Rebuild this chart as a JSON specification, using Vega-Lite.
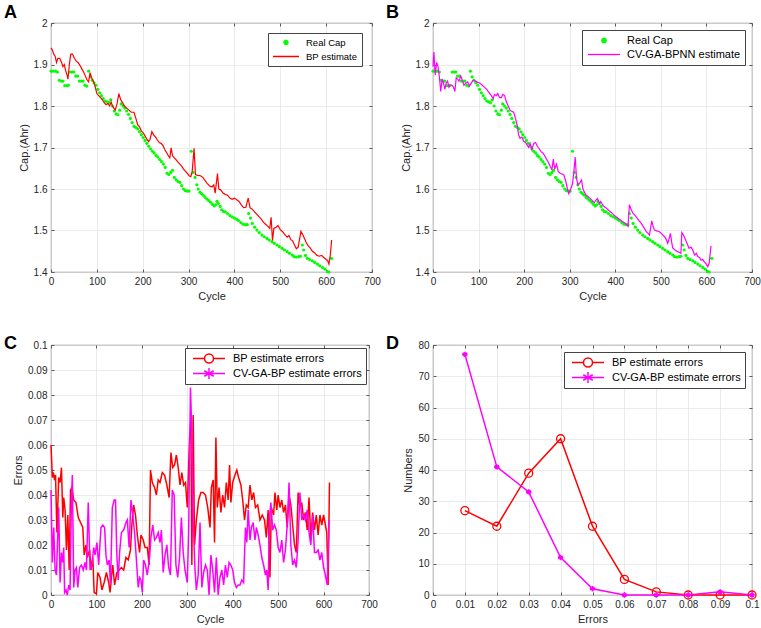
{
  "$schema": "https://vega.github.io/schema/vega-lite/v6.json",
  "padding": {"left": 3, "top": 3, "right": 0, "bottom": 0},
  "bounds": "flush",
  "spacing": {"row": 73, "column": 61},
  "columns": 2,
  "resolve": {"scale": {"color": "independent"}, "legend": {"color": "independent"}},
  "config": {
    "font": "Liberation Sans",
    "view": {"stroke": "#5a5a5a", "strokeWidth": 0.8},
    "axis": {
      "domain": false,
      "grid": true,
      "gridColor": "#e3e3e3",
      "gridWidth": 0.7,
      "tickColor": "#5a5a5a",
      "tickSize": -3,
      "labelFont": "Liberation Sans",
      "labelFontSize": 10,
      "labelColor": "#262626",
      "labelPadding": 7,
      "titleFont": "Liberation Sans",
      "titleFontSize": 11,
      "titleFontWeight": "normal",
      "titleColor": "#262626"
    },
    "legend": {
      "orient": "top-right",
      "title": null,
      "fillColor": "white",
      "strokeColor": "#444444",
      "padding": 4,
      "labelFont": "Liberation Sans",
      "labelFontSize": 11,
      "labelColor": "#000000",
      "symbolSize": 100,
      "symbolOffset": 14,
      "labelOffset": 18,
      "clipHeight": 13,
      "rowPadding": 2
    },
    "title": {
      "anchor": "start",
      "frame": "group",
      "font": "Liberation Sans",
      "fontSize": 18,
      "fontWeight": "bold",
      "color": "#000000",
      "baseline": "alphabetic",
      "dx": -47,
      "dy": 7,
      "offset": 3
    }
  },
  "datasets": {
    "cap": [
      {"c":0,"r":1.884},{"c":5,"r":1.884},{"c":10,"r":1.884},{"c":14,"r":1.882},{"c":18,"r":1.862},{"c":22,"r":1.86},{"c":26,"r":1.86},{"c":30,"r":1.849},{"c":35,"r":1.849},{"c":38,"r":1.85},
      {"c":42,"r":1.882},{"c":46,"r":1.882},{"c":50,"r":1.882},{"c":54,"r":1.872},{"c":58,"r":1.872},{"c":62,"r":1.86},{"c":66,"r":1.86},{"c":70,"r":1.86},{"c":74,"r":1.85},{"c":78,"r":1.848},
      {"c":82,"r":1.884},{"c":86,"r":1.87},{"c":90,"r":1.862},{"c":94,"r":1.856},{"c":98,"r":1.85},{"c":102,"r":1.84},{"c":106,"r":1.832},{"c":110,"r":1.825},{"c":114,"r":1.818},{"c":118,"r":1.812},
      {"c":122,"r":1.81},{"c":126,"r":1.808},{"c":130,"r":1.815},{"c":134,"r":1.8},{"c":138,"r":1.788},{"c":142,"r":1.781},{"c":146,"r":1.779},{"c":150,"r":1.79},{"c":153,"r":1.805},{"c":157,"r":1.8},
      {"c":161,"r":1.795},{"c":165,"r":1.788},{"c":169,"r":1.78},{"c":173,"r":1.77},{"c":177,"r":1.76},{"c":181,"r":1.751},{"c":185,"r":1.748},{"c":189,"r":1.745},{"c":193,"r":1.738},{"c":197,"r":1.731},
      {"c":201,"r":1.724},{"c":205,"r":1.717},{"c":209,"r":1.71},{"c":213,"r":1.703},{"c":217,"r":1.697},{"c":221,"r":1.691},{"c":225,"r":1.687},{"c":229,"r":1.681},{"c":233,"r":1.677},{"c":237,"r":1.671},
      {"c":241,"r":1.666},{"c":245,"r":1.66},{"c":249,"r":1.652},{"c":253,"r":1.638},{"c":257,"r":1.635},{"c":261,"r":1.64},{"c":265,"r":1.645},{"c":269,"r":1.628},{"c":273,"r":1.622},{"c":277,"r":1.618},
      {"c":281,"r":1.616},{"c":285,"r":1.608},{"c":289,"r":1.6},{"c":293,"r":1.596},{"c":297,"r":1.595},{"c":301,"r":1.595},{"c":306,"r":1.691},{"c":310,"r":1.64},{"c":314,"r":1.628},{"c":318,"r":1.61},
      {"c":321,"r":1.6},{"c":325,"r":1.592},{"c":328,"r":1.589},{"c":332,"r":1.585},{"c":336,"r":1.58},{"c":340,"r":1.576},{"c":344,"r":1.572},{"c":348,"r":1.568},{"c":352,"r":1.563},{"c":356,"r":1.559},
      {"c":359,"r":1.562},{"c":362,"r":1.57},{"c":365,"r":1.565},{"c":369,"r":1.558},{"c":372,"r":1.55},{"c":376,"r":1.546},{"c":380,"r":1.545},{"c":385,"r":1.541},{"c":390,"r":1.536},{"c":395,"r":1.533},
      {"c":400,"r":1.53},{"c":405,"r":1.527},{"c":409,"r":1.524},{"c":414,"r":1.519},{"c":419,"r":1.515},{"c":424,"r":1.514},{"c":428,"r":1.514},{"c":431,"r":1.541},{"c":435,"r":1.53},{"c":439,"r":1.517},
      {"c":444,"r":1.508},{"c":449,"r":1.501},{"c":454,"r":1.495},{"c":460,"r":1.489},{"c":465,"r":1.485},{"c":471,"r":1.481},{"c":476,"r":1.477},{"c":482,"r":1.473},{"c":487,"r":1.469},{"c":493,"r":1.465},
      {"c":498,"r":1.461},{"c":504,"r":1.457},{"c":509,"r":1.453},{"c":515,"r":1.449},{"c":520,"r":1.445},{"c":526,"r":1.441},{"c":530,"r":1.437},{"c":535,"r":1.436},{"c":540,"r":1.437},{"c":544,"r":1.438},
      {"c":548,"r":1.465},{"c":551,"r":1.453},{"c":555,"r":1.44},{"c":559,"r":1.433},{"c":564,"r":1.43},{"c":570,"r":1.427},{"c":575,"r":1.423},{"c":581,"r":1.419},{"c":586,"r":1.415},{"c":592,"r":1.411},
      {"c":597,"r":1.407},{"c":603,"r":1.401},{"c":606,"r":1.4},{"c":612,"r":1.433}
    ],
    "bp": [
      {"c":0,"v":1.94},{"c":3,"v":1.935},{"c":6,"v":1.925},{"c":9,"v":1.92},{"c":12,"v":1.905},{"c":15,"v":1.915},{"c":19,"v":1.915},{"c":23,"v":1.905},{"c":26,"v":1.895},{"c":29,"v":1.9},
      {"c":32,"v":1.885},{"c":35,"v":1.875},{"c":37,"v":1.865},{"c":40,"v":1.9},{"c":43,"v":1.925},{"c":47,"v":1.925},{"c":51,"v":1.915},{"c":55,"v":1.908},{"c":59,"v":1.905},{"c":63,"v":1.898},
      {"c":67,"v":1.89},{"c":71,"v":1.882},{"c":75,"v":1.872},{"c":79,"v":1.862},{"c":82,"v":1.858},{"c":85,"v":1.88},{"c":88,"v":1.87},{"c":92,"v":1.86},{"c":96,"v":1.848},{"c":100,"v":1.83},
      {"c":104,"v":1.825},{"c":108,"v":1.82},{"c":112,"v":1.815},{"c":116,"v":1.808},{"c":120,"v":1.803},{"c":124,"v":1.806},{"c":128,"v":1.8},{"c":131,"v":1.81},{"c":134,"v":1.8},{"c":137,"v":1.795},
      {"c":140,"v":1.79},{"c":144,"v":1.805},{"c":148,"v":1.83},{"c":152,"v":1.815},{"c":156,"v":1.808},{"c":160,"v":1.8},{"c":165,"v":1.795},{"c":170,"v":1.79},{"c":175,"v":1.785},{"c":181,"v":1.785},
      {"c":185,"v":1.77},{"c":189,"v":1.755},{"c":193,"v":1.75},{"c":197,"v":1.74},{"c":201,"v":1.735},{"c":205,"v":1.728},{"c":209,"v":1.72},{"c":213,"v":1.714},{"c":216,"v":1.72},{"c":220,"v":1.738},
      {"c":224,"v":1.73},{"c":228,"v":1.725},{"c":232,"v":1.718},{"c":236,"v":1.712},{"c":240,"v":1.71},{"c":244,"v":1.705},{"c":248,"v":1.695},{"c":252,"v":1.688},{"c":256,"v":1.68},{"c":259,"v":1.675},
      {"c":262,"v":1.699},{"c":265,"v":1.68},{"c":269,"v":1.675},{"c":273,"v":1.67},{"c":277,"v":1.665},{"c":281,"v":1.66},{"c":285,"v":1.655},{"c":289,"v":1.648},{"c":293,"v":1.643},{"c":297,"v":1.638},
      {"c":301,"v":1.632},{"c":305,"v":1.63},{"c":308,"v":1.643},{"c":312,"v":1.698},{"c":315,"v":1.635},{"c":320,"v":1.633},{"c":326,"v":1.632},{"c":331,"v":1.628},{"c":336,"v":1.62},{"c":341,"v":1.613},
      {"c":346,"v":1.607},{"c":351,"v":1.605},{"c":355,"v":1.61},{"c":358,"v":1.59},{"c":363,"v":1.637},{"c":366,"v":1.6},{"c":370,"v":1.598},{"c":375,"v":1.59},{"c":380,"v":1.587},{"c":385,"v":1.585},
      {"c":390,"v":1.578},{"c":395,"v":1.575},{"c":400,"v":1.578},{"c":405,"v":1.574},{"c":410,"v":1.57},{"c":415,"v":1.562},{"c":420,"v":1.555},{"c":425,"v":1.556},{"c":430,"v":1.578},{"c":434,"v":1.555},
      {"c":438,"v":1.552},{"c":443,"v":1.546},{"c":448,"v":1.54},{"c":453,"v":1.534},{"c":458,"v":1.528},{"c":463,"v":1.52},{"c":468,"v":1.515},{"c":473,"v":1.51},{"c":477,"v":1.505},{"c":480,"v":1.532},
      {"c":483,"v":1.476},{"c":486,"v":1.505},{"c":491,"v":1.508},{"c":495,"v":1.512},{"c":500,"v":1.502},{"c":505,"v":1.497},{"c":510,"v":1.49},{"c":515,"v":1.484},{"c":519,"v":1.488},{"c":523,"v":1.478},
      {"c":527,"v":1.475},{"c":531,"v":1.465},{"c":535,"v":1.456},{"c":539,"v":1.46},{"c":545,"v":1.498},{"c":549,"v":1.49},{"c":553,"v":1.48},{"c":557,"v":1.47},{"c":561,"v":1.463},{"c":565,"v":1.458},
      {"c":570,"v":1.45},{"c":575,"v":1.446},{"c":580,"v":1.44},{"c":585,"v":1.438},{"c":590,"v":1.44},{"c":595,"v":1.435},{"c":600,"v":1.43},{"c":603,"v":1.428},{"c":606,"v":1.419},{"c":609,"v":1.44},
      {"c":612,"v":1.477}
    ],
    "ga": [
      {"c":0,"v":1.895},{"c":2,"v":1.93},{"c":4,"v":1.89},{"c":5,"v":1.875},{"c":8,"v":1.905},{"c":11,"v":1.895},{"c":14,"v":1.87},{"c":17,"v":1.835},{"c":20,"v":1.865},{"c":23,"v":1.855},
      {"c":26,"v":1.84},{"c":29,"v":1.855},{"c":32,"v":1.86},{"c":35,"v":1.845},{"c":38,"v":1.85},{"c":42,"v":1.85},{"c":45,"v":1.845},{"c":48,"v":1.835},{"c":51,"v":1.868},{"c":54,"v":1.865},
      {"c":57,"v":1.86},{"c":61,"v":1.872},{"c":65,"v":1.86},{"c":68,"v":1.85},{"c":72,"v":1.855},{"c":76,"v":1.858},{"c":80,"v":1.848},{"c":84,"v":1.855},{"c":88,"v":1.862},{"c":93,"v":1.86},
      {"c":98,"v":1.857},{"c":103,"v":1.855},{"c":108,"v":1.85},{"c":113,"v":1.845},{"c":118,"v":1.84},{"c":123,"v":1.832},{"c":128,"v":1.825},{"c":132,"v":1.818},{"c":135,"v":1.828},{"c":139,"v":1.825},
      {"c":142,"v":1.83},{"c":146,"v":1.82},{"c":150,"v":1.82},{"c":153,"v":1.828},{"c":157,"v":1.825},{"c":161,"v":1.81},{"c":165,"v":1.8},{"c":169,"v":1.79},{"c":173,"v":1.787},{"c":177,"v":1.785},
      {"c":181,"v":1.77},{"c":185,"v":1.752},{"c":188,"v":1.73},{"c":191,"v":1.722},{"c":195,"v":1.725},{"c":199,"v":1.715},{"c":203,"v":1.712},{"c":207,"v":1.705},{"c":210,"v":1.7},{"c":213,"v":1.71},
      {"c":217,"v":1.695},{"c":221,"v":1.71},{"c":225,"v":1.712},{"c":229,"v":1.703},{"c":233,"v":1.697},{"c":237,"v":1.69},{"c":241,"v":1.687},{"c":245,"v":1.68},{"c":249,"v":1.672},{"c":253,"v":1.665},
      {"c":257,"v":1.655},{"c":261,"v":1.647},{"c":264,"v":1.672},{"c":267,"v":1.648},{"c":271,"v":1.66},{"c":275,"v":1.642},{"c":279,"v":1.638},{"c":283,"v":1.636},{"c":287,"v":1.634},{"c":291,"v":1.62},
      {"c":295,"v":1.6},{"c":298,"v":1.589},{"c":302,"v":1.6},{"c":306,"v":1.612},{"c":309,"v":1.64},{"c":312,"v":1.677},{"c":315,"v":1.625},{"c":318,"v":1.61},{"c":322,"v":1.615},{"c":326,"v":1.622},
      {"c":329,"v":1.6},{"c":332,"v":1.593},{"c":336,"v":1.585},{"c":340,"v":1.582},{"c":344,"v":1.578},{"c":347,"v":1.575},{"c":351,"v":1.57},{"c":354,"v":1.567},{"c":358,"v":1.574},{"c":361,"v":1.577},
      {"c":365,"v":1.565},{"c":368,"v":1.57},{"c":372,"v":1.562},{"c":376,"v":1.557},{"c":380,"v":1.554},{"c":384,"v":1.55},{"c":387,"v":1.547},{"c":392,"v":1.543},{"c":398,"v":1.536},{"c":403,"v":1.532},
      {"c":409,"v":1.527},{"c":414,"v":1.523},{"c":420,"v":1.519},{"c":426,"v":1.513},{"c":428,"v":1.51},{"c":431,"v":1.562},{"c":435,"v":1.55},{"c":439,"v":1.541},{"c":443,"v":1.537},{"c":446,"v":1.533},
      {"c":451,"v":1.525},{"c":457,"v":1.517},{"c":463,"v":1.507},{"c":468,"v":1.497},{"c":472,"v":1.493},{"c":475,"v":1.489},{"c":480,"v":1.523},{"c":483,"v":1.51},{"c":486,"v":1.501},{"c":491,"v":1.499},
      {"c":497,"v":1.497},{"c":502,"v":1.492},{"c":508,"v":1.485},{"c":512,"v":1.478},{"c":515,"v":1.469},{"c":518,"v":1.48},{"c":521,"v":1.493},{"c":524,"v":1.47},{"c":526,"v":1.458},{"c":531,"v":1.453},
      {"c":537,"v":1.449},{"c":541,"v":1.447},{"c":544,"v":1.445},{"c":546,"v":1.495},{"c":549,"v":1.49},{"c":553,"v":1.481},{"c":557,"v":1.47},{"c":562,"v":1.457},{"c":566,"v":1.46},{"c":570,"v":1.453},
      {"c":574,"v":1.441},{"c":578,"v":1.445},{"c":581,"v":1.437},{"c":585,"v":1.435},{"c":588,"v":1.429},{"c":592,"v":1.43},{"c":595,"v":1.425},{"c":599,"v":1.42},{"c":603,"v":1.413},{"c":606,"v":1.421},
      {"c":610,"v":1.463}
    ],
    "e1": [
      {"c":0,"e":0.06},{"c":3,"e":0.047},{"c":5,"e":0.049},{"c":8,"e":0.046},{"c":10,"e":0.048},{"c":13,"e":0.025},{"c":17,"e":0.047},{"c":20,"e":0.045},{"c":23,"e":0.051},{"c":26,"e":0.031},
      {"c":28,"e":0.039},{"c":31,"e":0.034},{"c":34,"e":0.018},{"c":37,"e":0.032},{"c":40,"e":0.01},{"c":43,"e":0.042},{"c":46,"e":0.043},{"c":50,"e":0.038},{"c":55,"e":0.037},{"c":60,"e":0.031},
      {"c":65,"e":0.029},{"c":70,"e":0.027},{"c":73,"e":0.016},{"c":77,"e":0.02},{"c":80,"e":0.015},{"c":85,"e":0.018},{"c":88,"e":0.01},{"c":92,"e":0.015},{"c":95,"e":0.001},{"c":100,"e":0.0005},
      {"c":103,"e":0.009},{"c":108,"e":0.007},{"c":112,"e":0.002},{"c":117,"e":0.005},{"c":122,"e":0.009},{"c":127,"e":0.005},{"c":130,"e":0.001},{"c":133,"e":0.007},{"c":136,"e":0.012},{"c":140,"e":0.004},
      {"c":145,"e":0.009},{"c":150,"e":0.01},{"c":155,"e":0.011},{"c":160,"e":0.01},{"c":165,"e":0.015},{"c":170,"e":0.014},{"c":175,"e":0.018},{"c":178,"e":0.028},{"c":182,"e":0.036},{"c":186,"e":0.032},
      {"c":190,"e":0.024},{"c":195,"e":0.017},{"c":198,"e":0.024},{"c":203,"e":0.022},{"c":207,"e":0.019},{"c":212,"e":0.019},{"c":216,"e":0.012},{"c":219,"e":0.05},{"c":223,"e":0.045},{"c":228,"e":0.043},
      {"c":232,"e":0.04},{"c":236,"e":0.046},{"c":240,"e":0.045},{"c":245,"e":0.049},{"c":250,"e":0.048},{"c":255,"e":0.044},{"c":260,"e":0.039},{"c":264,"e":0.057},{"c":268,"e":0.051},{"c":272,"e":0.052},
      {"c":276,"e":0.056},{"c":280,"e":0.051},{"c":284,"e":0.044},{"c":288,"e":0.049},{"c":292,"e":0.044},{"c":296,"e":0.045},{"c":300,"e":0.035},{"c":305,"e":0.063},{"c":308,"e":0.07},{"c":310,"e":0.012},
      {"c":313,"e":0.072},{"c":316,"e":0.02},{"c":320,"e":0.03},{"c":325,"e":0.038},{"c":330,"e":0.041},{"c":335,"e":0.041},{"c":340,"e":0.04},{"c":345,"e":0.035},{"c":350,"e":0.027},{"c":353,"e":0.043},
      {"c":357,"e":0.046},{"c":360,"e":0.021},{"c":363,"e":0.063},{"c":366,"e":0.035},{"c":370,"e":0.043},{"c":374,"e":0.033},{"c":378,"e":0.04},{"c":382,"e":0.035},{"c":386,"e":0.045},{"c":390,"e":0.038},
      {"c":393,"e":0.052},{"c":396,"e":0.037},{"c":400,"e":0.045},{"c":405,"e":0.048},{"c":409,"e":0.05},{"c":413,"e":0.047},{"c":418,"e":0.044},{"c":422,"e":0.038},{"c":426,"e":0.03},{"c":430,"e":0.036},
      {"c":434,"e":0.035},{"c":438,"e":0.044},{"c":442,"e":0.038},{"c":446,"e":0.041},{"c":450,"e":0.035},{"c":455,"e":0.036},{"c":460,"e":0.03},{"c":465,"e":0.032},{"c":470,"e":0.03},{"c":474,"e":0.023},
      {"c":478,"e":0.034},{"c":482,"e":0.007},{"c":485,"e":0.035},{"c":490,"e":0.032},{"c":493,"e":0.041},{"c":497,"e":0.034},{"c":500,"e":0.04},{"c":504,"e":0.035},{"c":508,"e":0.038},{"c":512,"e":0.033},
      {"c":516,"e":0.036},{"c":520,"e":0.027},{"c":524,"e":0.04},{"c":528,"e":0.036},{"c":532,"e":0.028},{"c":536,"e":0.02},{"c":540,"e":0.017},{"c":544,"e":0.041},{"c":548,"e":0.035},{"c":552,"e":0.037},
      {"c":556,"e":0.03},{"c":560,"e":0.033},{"c":564,"e":0.026},{"c":568,"e":0.039},{"c":572,"e":0.022},{"c":576,"e":0.033},{"c":580,"e":0.026},{"c":584,"e":0.032},{"c":588,"e":0.024},{"c":592,"e":0.032},
      {"c":596,"e":0.028},{"c":600,"e":0.032},{"c":604,"e":0.028},{"c":607,"e":0.025},{"c":610,"e":0.004},{"c":613,"e":0.045}
    ],
    "e2": [
      {"c":0,"e":0.042},{"c":3,"e":0.013},{"c":6,"e":0.027},{"c":9,"e":0.01},{"c":12,"e":0.008},{"c":15,"e":0.025},{"c":17,"e":0.035},{"c":20,"e":0.005},{"c":23,"e":0.017},{"c":26,"e":0.013},
      {"c":28,"e":0.019},{"c":30,"e":0.001},{"c":33,"e":0.002},{"c":36,"e":0.0},{"c":39,"e":0.004},{"c":42,"e":0.002},{"c":45,"e":0.038},{"c":47,"e":0.048},{"c":50,"e":0.003},{"c":53,"e":0.01},
      {"c":56,"e":0.011},{"c":59,"e":0.003},{"c":63,"e":0.011},{"c":67,"e":0.012},{"c":71,"e":0.01},{"c":75,"e":0.013},{"c":78,"e":0.01},{"c":82,"e":0.037},{"c":86,"e":0.01},{"c":90,"e":0.012},
      {"c":94,"e":0.019},{"c":97,"e":0.016},{"c":101,"e":0.021},{"c":105,"e":0.012},{"c":110,"e":0.027},{"c":114,"e":0.028},{"c":118,"e":0.027},{"c":121,"e":0.016},{"c":124,"e":0.012},{"c":128,"e":0.014},
      {"c":131,"e":0.004},{"c":135,"e":0.035},{"c":139,"e":0.038},{"c":142,"e":0.038},{"c":145,"e":0.016},{"c":148,"e":0.006},{"c":151,"e":0.017},{"c":155,"e":0.025},{"c":160,"e":0.026},{"c":165,"e":0.029},
      {"c":168,"e":0.03},{"c":172,"e":0.019},{"c":176,"e":0.038},{"c":180,"e":0.032},{"c":184,"e":0.025},{"c":188,"e":0.014},{"c":192,"e":0.003},{"c":195,"e":0.007},{"c":198,"e":0.006},{"c":201,"e":0.001},
      {"c":204,"e":0.014},{"c":208,"e":0.012},{"c":212,"e":0.008},{"c":217,"e":0.015},{"c":220,"e":0.023},{"c":224,"e":0.028},{"c":228,"e":0.022},{"c":232,"e":0.023},{"c":236,"e":0.025},{"c":240,"e":0.021},
      {"c":243,"e":0.026},{"c":247,"e":0.009},{"c":251,"e":0.016},{"c":255,"e":0.02},{"c":259,"e":0.011},{"c":263,"e":0.008},{"c":267,"e":0.042},{"c":271,"e":0.04},{"c":275,"e":0.012},{"c":279,"e":0.007},
      {"c":283,"e":0.015},{"c":287,"e":0.031},{"c":291,"e":0.017},{"c":295,"e":0.01},{"c":300,"e":0.005},{"c":303,"e":0.025},{"c":307,"e":0.083},{"c":310,"e":0.065},{"c":313,"e":0.03},{"c":317,"e":0.01},
      {"c":320,"e":0.002},{"c":324,"e":0.008},{"c":328,"e":0.029},{"c":332,"e":0.003},{"c":336,"e":0.009},{"c":340,"e":0.012},{"c":344,"e":0.01},{"c":348,"e":0.0},{"c":352,"e":0.016},{"c":356,"e":0.01},
      {"c":360,"e":0.001},{"c":364,"e":0.015},{"c":368,"e":0.0},{"c":372,"e":0.007},{"c":376,"e":0.01},{"c":380,"e":0.004},{"c":384,"e":0.012},{"c":388,"e":0.007},{"c":392,"e":0.013},{"c":396,"e":0.012},
      {"c":400,"e":0.01},{"c":404,"e":0.005},{"c":408,"e":0.003},{"c":412,"e":0.004},{"c":416,"e":0.004},{"c":420,"e":0.006},{"c":424,"e":0.005},{"c":428,"e":0.027},{"c":431,"e":0.021},{"c":434,"e":0.034},
      {"c":438,"e":0.022},{"c":441,"e":0.027},{"c":445,"e":0.029},{"c":449,"e":0.022},{"c":452,"e":0.027},{"c":456,"e":0.024},{"c":460,"e":0.02},{"c":464,"e":0.015},{"c":468,"e":0.012},{"c":472,"e":0.008},
      {"c":475,"e":0.01},{"c":478,"e":0.002},{"c":481,"e":0.031},{"c":484,"e":0.037},{"c":488,"e":0.026},{"c":492,"e":0.028},{"c":496,"e":0.026},{"c":500,"e":0.019},{"c":504,"e":0.017},{"c":508,"e":0.022},
      {"c":512,"e":0.013},{"c":516,"e":0.018},{"c":520,"e":0.028},{"c":524,"e":0.045},{"c":528,"e":0.02},{"c":532,"e":0.012},{"c":536,"e":0.014},{"c":540,"e":0.011},{"c":544,"e":0.022},{"c":548,"e":0.041},
      {"c":552,"e":0.03},{"c":556,"e":0.032},{"c":560,"e":0.03},{"c":564,"e":0.034},{"c":568,"e":0.025},{"c":572,"e":0.02},{"c":576,"e":0.032},{"c":580,"e":0.017},{"c":584,"e":0.017},{"c":588,"e":0.018},
      {"c":592,"e":0.014},{"c":596,"e":0.017},{"c":600,"e":0.011},{"c":604,"e":0.008},{"c":608,"e":0.004},{"c":612,"e":0.03}
    ],
    "hist": [
      {"x":0.01,"bp":27,"ga":77},{"x":0.02,"bp":22,"ga":41},{"x":0.03,"bp":39,"ga":33},{"x":0.04,"bp":50,"ga":12},{"x":0.05,"bp":22,"ga":2},
      {"x":0.06,"bp":5,"ga":0},{"x":0.07,"bp":1,"ga":0},{"x":0.08,"bp":0,"ga":0},{"x":0.09,"bp":0,"ga":1},{"x":0.1,"bp":0,"ga":0}
    ]
  },
  "concat": [
    {
      "width": 321,
      "height": 249,
      "title": {"text": "A"},
      "resolve": {"axis": {"x": "independent", "y": "independent"}},
      "layer": [
        {
          "data": {"name": "cap"},
          "mark": {"type": "point", "filled": true, "size": 10, "opacity": 1},
          "encoding": {
            "x": {"field": "c", "type": "quantitative", "scale": {"domain": [0, 700]}, "axis": {"title": "Cycle", "values": [0, 100, 200, 300, 400, 500, 600, 700], "labelOverlap": false, "labelFlush": false}},
            "y": {"field": "r", "type": "quantitative", "scale": {"domain": [1.4, 2]}, "axis": {"title": "Cap.(Ahr)", "values": [1.4, 1.5, 1.6, 1.7, 1.8, 1.9, 2], "format": ".1~f", "labelOverlap": false, "labelFlush": false}},
            "color": {
              "datum": "Real Cap",
              "type": "nominal",
              "scale": {"domain": ["Real Cap", "BP estimate"], "range": ["#00ff00", "#ff0000"]},
              "legend": {
                "offset": 10, "labelFontSize": 9.5, "symbolOffset": 8, "labelOffset": 14, "clipHeight": 11, "rowPadding": 3,
                "encode": {"symbols": {"update": {
                  "shape": {"signal": "datum.value === 'Real Cap' ? 'M-0.4,0A0.4,0.4 0 1,0 0.4,0A0.4,0.4 0 1,0 -0.4,0Z' : 'M-2.6,0H2.6'"},
                  "fill": {"signal": "datum.value === 'Real Cap' ? '#00ff00' : 'transparent'"},
                  "stroke": {"signal": "datum.value === 'Real Cap' ? 'transparent' : '#ff0000'"},
                  "strokeWidth": {"value": 1.3}, "opacity": {"value": 1}}}}
              }
            }
          }
        },
        {
          "data": {"name": "bp"},
          "mark": {"type": "line", "strokeWidth": 1.2},
          "encoding": {
            "x": {"field": "c", "type": "quantitative", "axis": {"orient": "top", "labels": false, "grid": false, "title": null, "values": [0, 100, 200, 300, 400, 500, 600, 700]}},
            "y": {"field": "v", "type": "quantitative", "axis": {"orient": "right", "labels": false, "grid": false, "title": null, "values": [1.4, 1.5, 1.6, 1.7, 1.8, 1.9, 2]}},
            "color": {
              "datum": "BP estimate",
              "type": "nominal",
              "legend": {
                "offset": 10, "labelFontSize": 9.5, "symbolOffset": 8, "labelOffset": 14, "clipHeight": 11, "rowPadding": 3,
                "encode": {"symbols": {"update": {
                  "shape": {"signal": "datum.value === 'Real Cap' ? 'M-0.4,0A0.4,0.4 0 1,0 0.4,0A0.4,0.4 0 1,0 -0.4,0Z' : 'M-2.6,0H2.6'"},
                  "fill": {"signal": "datum.value === 'Real Cap' ? '#00ff00' : 'transparent'"},
                  "stroke": {"signal": "datum.value === 'Real Cap' ? 'transparent' : '#ff0000'"},
                  "strokeWidth": {"value": 1.3}, "opacity": {"value": 1}}}}
              }
            }
          }
        }
      ]
    },
    {
      "width": 319,
      "height": 249,
      "title": {"text": "B"},
      "resolve": {"axis": {"x": "independent", "y": "independent"}},
      "layer": [
        {
          "data": {"name": "cap"},
          "mark": {"type": "point", "filled": true, "size": 10, "opacity": 1},
          "encoding": {
            "x": {"field": "c", "type": "quantitative", "scale": {"domain": [0, 700]}, "axis": {"title": "Cycle", "values": [0, 100, 200, 300, 400, 500, 600, 700], "labelOverlap": false, "labelFlush": false}},
            "y": {"field": "r", "type": "quantitative", "scale": {"domain": [1.4, 2]}, "axis": {"title": "Cap.(Ahr)", "values": [1.4, 1.5, 1.6, 1.7, 1.8, 1.9, 2], "format": ".1~f", "labelOverlap": false, "labelFlush": false}},
            "color": {
              "datum": "Real Cap",
              "type": "nominal",
              "scale": {"domain": ["Real Cap", "CV-GA-BPNN estimate"], "range": ["#00ff00", "#ff00ff"]},
              "legend": {
                "offset": 7, "symbolOffset": 12, "labelOffset": 17, "rowPadding": 1,
                "encode": {"symbols": {"update": {
                  "shape": {"signal": "datum.value === 'Real Cap' ? 'M-0.44,0A0.44,0.44 0 1,0 0.44,0A0.44,0.44 0 1,0 -0.44,0Z' : 'M-3.2,0H3.2'"},
                  "fill": {"signal": "datum.value === 'Real Cap' ? '#00ff00' : 'transparent'"},
                  "stroke": {"signal": "datum.value === 'Real Cap' ? 'transparent' : '#ff00ff'"},
                  "strokeWidth": {"value": 1.3}, "opacity": {"value": 1}}}}
              }
            }
          }
        },
        {
          "data": {"name": "ga"},
          "mark": {"type": "line", "strokeWidth": 1.2},
          "encoding": {
            "x": {"field": "c", "type": "quantitative", "axis": {"orient": "top", "labels": false, "grid": false, "title": null, "values": [0, 100, 200, 300, 400, 500, 600, 700]}},
            "y": {"field": "v", "type": "quantitative", "axis": {"orient": "right", "labels": false, "grid": false, "title": null, "values": [1.4, 1.5, 1.6, 1.7, 1.8, 1.9, 2]}},
            "color": {
              "datum": "CV-GA-BPNN estimate",
              "type": "nominal",
              "legend": {
                "offset": 7, "symbolOffset": 12, "labelOffset": 17, "rowPadding": 1,
                "encode": {"symbols": {"update": {
                  "shape": {"signal": "datum.value === 'Real Cap' ? 'M-0.44,0A0.44,0.44 0 1,0 0.44,0A0.44,0.44 0 1,0 -0.44,0Z' : 'M-3.2,0H3.2'"},
                  "fill": {"signal": "datum.value === 'Real Cap' ? '#00ff00' : 'transparent'"},
                  "stroke": {"signal": "datum.value === 'Real Cap' ? 'transparent' : '#ff00ff'"},
                  "strokeWidth": {"value": 1.3}, "opacity": {"value": 1}}}}
              }
            }
          }
        }
      ]
    },
    {
      "width": 318,
      "height": 250,
      "title": {"text": "C", "dy": 16},
      "resolve": {"axis": {"x": "independent", "y": "independent"}},
      "layer": [
        {
          "data": {"name": "e1"},
          "mark": {"type": "line", "strokeWidth": 1.5},
          "encoding": {
            "x": {"field": "c", "type": "quantitative", "scale": {"domain": [0, 700]}, "axis": {"title": "Cycle", "values": [0, 100, 200, 300, 400, 500, 600, 700], "labelOverlap": false, "labelFlush": false}},
            "y": {"field": "e", "type": "quantitative", "scale": {"domain": [0, 0.1]}, "axis": {"title": "Errors", "values": [0, 0.01, 0.02, 0.03, 0.04, 0.05, 0.06, 0.07, 0.08, 0.09, 0.1], "format": ".2~f", "labelOverlap": false, "labelFlush": false}},
            "color": {
              "datum": "BP estimate errors",
              "type": "nominal",
              "scale": {"domain": ["BP estimate errors", "CV-GA-BP estimate errors"], "range": ["#ff0000", "#ff00ff"]},
              "legend": {
                "offset": 3,
                "encode": {"symbols": {"update": {
                  "shape": {"signal": "datum.value === 'BP estimate errors' ? 'M-3.2,0H-0.9A0.9,0.9 0 1,1 0.9,0A0.9,0.9 0 1,1 -0.9,0M0.9,0H3.2' : 'M-3.2,0H3.2M0,-1.1V1.1M-0.95,-0.55L0.95,0.55M-0.95,0.55L0.95,-0.55'"},
                  "fill": {"value": "transparent"},
                  "stroke": {"signal": "datum.value === 'BP estimate errors' ? '#ff0000' : '#ff00ff'"},
                  "strokeWidth": {"value": 1.5}, "opacity": {"value": 1}}}}
              }
            }
          }
        },
        {
          "data": {"name": "e2"},
          "mark": {"type": "line", "strokeWidth": 1.5},
          "encoding": {
            "x": {"field": "c", "type": "quantitative", "axis": {"orient": "top", "labels": false, "grid": false, "title": null, "values": [0, 100, 200, 300, 400, 500, 600, 700]}},
            "y": {"field": "e", "type": "quantitative", "axis": {"orient": "right", "labels": false, "grid": false, "title": null, "values": [0, 0.01, 0.02, 0.03, 0.04, 0.05, 0.06, 0.07, 0.08, 0.09, 0.1]}},
            "color": {
              "datum": "CV-GA-BP estimate errors",
              "type": "nominal",
              "legend": {
                "offset": 3,
                "encode": {"symbols": {"update": {
                  "shape": {"signal": "datum.value === 'BP estimate errors' ? 'M-3.2,0H-0.9A0.9,0.9 0 1,1 0.9,0A0.9,0.9 0 1,1 -0.9,0M0.9,0H3.2' : 'M-3.2,0H3.2M0,-1.1V1.1M-0.95,-0.55L0.95,0.55M-0.95,0.55L0.95,-0.55'"},
                  "fill": {"value": "transparent"},
                  "stroke": {"signal": "datum.value === 'BP estimate errors' ? '#ff0000' : '#ff00ff'"},
                  "strokeWidth": {"value": 1.5}, "opacity": {"value": 1}}}}
              }
            }
          }
        }
      ]
    },
    {
      "width": 319,
      "height": 250,
      "title": {"text": "D", "dy": 16},
      "data": {"name": "hist"},
      "resolve": {"axis": {"x": "independent", "y": "independent"}},
      "layer": [
        {
          "mark": {"type": "line", "strokeWidth": 1.5, "point": {"filled": false, "size": 64, "strokeWidth": 1.3}},
          "encoding": {
            "x": {"field": "x", "type": "quantitative", "scale": {"domain": [0, 0.1]}, "axis": {"title": "Errors", "values": [0, 0.01, 0.02, 0.03, 0.04, 0.05, 0.06, 0.07, 0.08, 0.09, 0.1], "format": ".2~f", "labelOverlap": false, "labelFlush": false}},
            "y": {"field": "bp", "type": "quantitative", "scale": {"domain": [0, 80]}, "axis": {"title": "Numbers", "values": [0, 10, 20, 30, 40, 50, 60, 70, 80], "labelOverlap": false, "labelFlush": false}},
            "color": {
              "datum": "BP estimate errors",
              "type": "nominal",
              "scale": {"domain": ["BP estimate errors", "CV-GA-BP estimate errors"], "range": ["#ff0000", "#ff00ff"]},
              "legend": {
                "offset": 7,
                "encode": {"symbols": {"update": {
                  "shape": {"signal": "datum.value === 'BP estimate errors' ? 'M-3.2,0H-0.9A0.9,0.9 0 1,1 0.9,0A0.9,0.9 0 1,1 -0.9,0M0.9,0H3.2' : 'M-3.2,0H3.2M0,-1.1V1.1M-0.95,-0.55L0.95,0.55M-0.95,0.55L0.95,-0.55'"},
                  "fill": {"value": "transparent"},
                  "stroke": {"signal": "datum.value === 'BP estimate errors' ? '#ff0000' : '#ff00ff'"},
                  "strokeWidth": {"value": 1.5}, "opacity": {"value": 1}}}}
              }
            }
          }
        },
        {
          "mark": {"type": "line", "strokeWidth": 1.5, "point": {"filled": false, "size": 30, "strokeWidth": 1.6, "shape": "M-1,0H1M0,-1V1M-0.8,-0.5L0.8,0.5M-0.8,0.5L0.8,-0.5"}},
          "encoding": {
            "x": {"field": "x", "type": "quantitative", "axis": {"orient": "top", "labels": false, "grid": false, "title": null, "values": [0, 0.01, 0.02, 0.03, 0.04, 0.05, 0.06, 0.07, 0.08, 0.09, 0.1]}},
            "y": {"field": "ga", "type": "quantitative", "axis": {"orient": "right", "labels": false, "grid": false, "title": null, "values": [0, 10, 20, 30, 40, 50, 60, 70, 80]}},
            "color": {
              "datum": "CV-GA-BP estimate errors",
              "type": "nominal",
              "legend": {
                "offset": 7,
                "encode": {"symbols": {"update": {
                  "shape": {"signal": "datum.value === 'BP estimate errors' ? 'M-3.2,0H-0.9A0.9,0.9 0 1,1 0.9,0A0.9,0.9 0 1,1 -0.9,0M0.9,0H3.2' : 'M-3.2,0H3.2M0,-1.1V1.1M-0.95,-0.55L0.95,0.55M-0.95,0.55L0.95,-0.55'"},
                  "fill": {"value": "transparent"},
                  "stroke": {"signal": "datum.value === 'BP estimate errors' ? '#ff0000' : '#ff00ff'"},
                  "strokeWidth": {"value": 1.5}, "opacity": {"value": 1}}}}
              }
            }
          }
        }
      ]
    }
  ]
}
